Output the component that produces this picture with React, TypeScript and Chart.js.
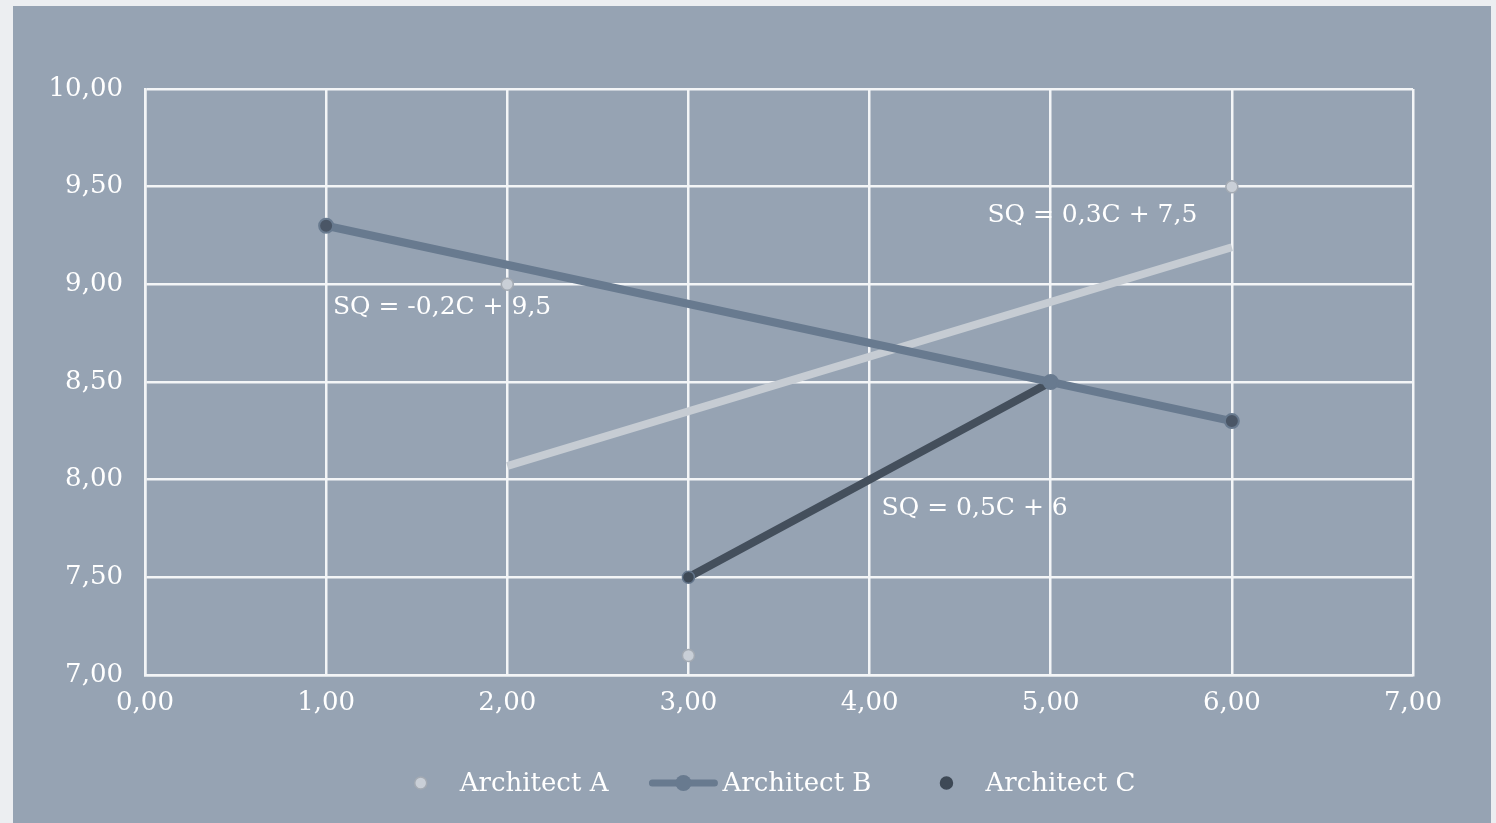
import React, { useEffect, useRef } from "react";
import { Chart, registerables } from "chart.js";

Chart.register(...registerables);

// Architect A: individual project scores (cost C vs. quality SQ)
const archAX = [2, 3, 6];
const archAY = [9.0, 7.1, 9.5];
// Linear trend for Architect A, drawn over its own x-range
const trendAX = [2, 6];
const trendAY = [8.07, 9.19];

// Architect B: connected series
const archBX = [1, 5, 6];
const archBY = [9.3, 8.5, 8.3];

// Architect C: individual project scores and trend
const archCX = [3, 5];
const archCY = [7.5, 8.5];
const trendCX = [3, 5];
const trendCY = [7.5, 8.5];

const seriesNames = ["Architect A", "Architect B", "Architect C"];
const trendLabels = ["SQ = -0,2C + 9,5", "SQ = 0,3C + 7,5", "SQ = 0,5C + 6"];
// data-space anchors (centre of each equation label)
const trendLabelAnchors = [
  { x: 1.64, y: 8.88 },
  { x: 5.23, y: 9.35 },
  { x: 4.58, y: 7.85 },
];

const FONT = "'DejaVu Serif', serif";
const BG = "#96a3b3";
const GRID = "#f3f5f7";
const A_FILL = "#c9cfd7";
const A_EDGE = "#a3aab3";
const A_TREND = "#c6ccd3";
const B_LINE = "#687a8f";
const B_MARK = "#4a5666";
const C_MARK = "#3e4956";
const C_EDGE = "#62748a";
const C_TREND = "#444f5c";

const pts = (xs: number[], ys: number[]) => xs.map((x, i) => ({ x, y: ys[i] }));
const fmt = (v: number) => v.toFixed(2).replace(".", ",");

const backgroundPlugin = {
  id: "bgFill",
  beforeDraw(chart: any) {
    const { ctx, width, height } = chart;
    ctx.save();
    ctx.fillStyle = BG;
    ctx.fillRect(0, 0, width, height);
    ctx.restore();
  },
};

const labelsPlugin = {
  id: "trendLabels",
  afterDatasetsDraw(chart: any) {
    const { ctx, scales } = chart;
    ctx.save();
    ctx.font = `25px ${FONT}`;
    ctx.fillStyle = "#ffffff";
    ctx.textAlign = "center";
    ctx.textBaseline = "middle";
    trendLabels.forEach((t, i) => {
      const a = trendLabelAnchors[i];
      ctx.fillText(t, scales.x.getPixelForValue(a.x), scales.y.getPixelForValue(a.y));
    });
    ctx.restore();
  },
};

const legendPlugin = {
  id: "customLegend",
  afterDraw(chart: any) {
    const { ctx, width } = chart;
    const y = 777;
    const box = 68;
    const gap = 5;
    const between = 41;
    ctx.save();
    ctx.font = `26px ${FONT}`;
    const widths = seriesNames.map((n) => ctx.measureText(n).width);
    const total = widths.reduce((s, w) => s + box + gap + w, 0) + between * (seriesNames.length - 1);
    let x = width / 2 + 9 - total / 2;
    seriesNames.forEach((name, i) => {
      const cx = x + box / 2;
      if (i === 1) {
        ctx.strokeStyle = B_LINE;
        ctx.lineWidth = 7;
        ctx.lineCap = "round";
        ctx.beginPath();
        ctx.moveTo(x + 3, y);
        ctx.lineTo(x + box - 3, y);
        ctx.stroke();
        ctx.fillStyle = B_LINE;
        ctx.beginPath();
        ctx.arc(cx, y, 8, 0, Math.PI * 2);
        ctx.fill();
      } else {
        ctx.fillStyle = i === 0 ? A_FILL : C_MARK;
        ctx.strokeStyle = i === 0 ? A_EDGE : C_MARK;
        ctx.lineWidth = 1.5;
        ctx.beginPath();
        ctx.arc(cx, y, 6, 0, Math.PI * 2);
        ctx.fill();
        ctx.stroke();
      }
      ctx.fillStyle = "#ffffff";
      ctx.textAlign = "left";
      ctx.textBaseline = "middle";
      ctx.fillText(name, x + box + gap, y + 1);
      x += box + gap + widths[i] + between;
    });
    ctx.restore();
  },
};

export default function App() {
  const canvasRef = useRef<HTMLCanvasElement | null>(null);

  useEffect(() => {
    if (!canvasRef.current) return;
    const chart = new Chart(canvasRef.current, {
      type: "scatter",
      data: {
        datasets: [
          {
            label: seriesNames[0],
            data: pts(archAX, archAY),
            pointRadius: 6,
            pointBackgroundColor: A_FILL,
            pointBorderColor: A_EDGE,
            pointBorderWidth: 1.5,
            showLine: false,
            order: 0,
          },
          {
            label: seriesNames[1],
            data: pts(archBX, archBY),
            showLine: true,
            borderColor: B_LINE,
            borderWidth: 8,
            pointRadius: 7,
            pointBackgroundColor: [B_MARK, B_LINE, B_MARK],
            pointBorderColor: B_LINE,
            pointBorderWidth: 2,
            order: 1,
          },
          {
            label: seriesNames[2],
            data: pts(archCX, archCY),
            pointRadius: 6,
            pointBackgroundColor: C_MARK,
            pointBorderColor: C_EDGE,
            pointBorderWidth: 1.5,
            showLine: false,
            order: 2,
          },
          {
            label: "Trend C",
            data: pts(trendCX, trendCY),
            showLine: true,
            borderColor: C_TREND,
            borderWidth: 8,
            borderCapStyle: "round",
            pointRadius: 0,
            order: 3,
          },
          {
            label: "Trend A",
            data: pts(trendAX, trendAY),
            showLine: true,
            borderColor: A_TREND,
            borderWidth: 8,
            borderCapStyle: "butt",
            pointRadius: 0,
            order: 4,
          },
        ],
      },
      options: {
        responsive: false,
        animation: false,
        layout: { padding: { left: 0, right: 78, top: 83, bottom: 0 } },
        plugins: {
          legend: { display: false },
          tooltip: { enabled: false },
        },
        scales: {
          x: {
            type: "linear",
            min: 0,
            max: 7,
            ticks: {
              stepSize: 1,
              color: "#ffffff",
              font: { family: FONT, size: 26 },
              padding: 13,
              callback: (v: any) => fmt(Number(v)),
            },
            grid: { color: GRID, lineWidth: 2.5, drawTicks: false },
            border: { color: GRID, width: 2.5 },
            afterFit: (s: any) => {
              s.height = 148;
            },
          },
          y: {
            type: "linear",
            min: 7,
            max: 10,
            ticks: {
              stepSize: 0.5,
              color: "#ffffff",
              font: { family: FONT, size: 26 },
              padding: 22,
              callback: (v: any) => fmt(Number(v)),
            },
            grid: { color: GRID, lineWidth: 2.5, drawTicks: false },
            border: { color: GRID, width: 2.5 },
            afterFit: (s: any) => {
              s.width = 132;
            },
          },
        },
      },
      plugins: [backgroundPlugin, labelsPlugin, legendPlugin],
    });
    return () => chart.destroy();
  }, []);

  return (
    <div
      style={{
        position: "fixed",
        inset: 0,
        background: "#eceef1",
      }}
    >
      <canvas
        ref={canvasRef}
        width={1478}
        height={817}
        style={{ position: "absolute", left: 13, top: 6, width: 1478, height: 817 }}
      />
    </div>
  );
}
